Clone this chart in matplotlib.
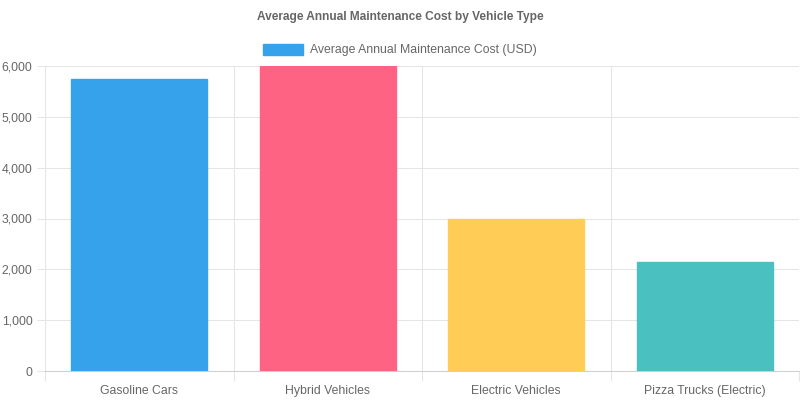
import matplotlib.pyplot as plt
from matplotlib.patches import Patch
from matplotlib.ticker import FuncFormatter, MultipleLocator

categories = ['Gasoline Cars', 'Hybrid Vehicles', 'Electric Vehicles', 'Pizza Trucks (Electric)']
costs = [5750, 6000, 3000, 2150]
bar_colors = ['#36A2EB', '#FF6384', '#FFCD56', '#4BC0C0']
series_label = 'Average Annual Maintenance Cost (USD)'
chart_title = 'Average Annual Maintenance Cost by Vehicle Type'

plt.rcParams['font.family'] = ['Liberation Sans', 'DejaVu Sans']
text_col = '#666666'
grid_col = '#e5e5e5'

fig = plt.figure(figsize=(8, 4), dpi=100)
ax = fig.add_axes([45 / 800, 29 / 400, 754 / 800, 305 / 400])

x = list(range(len(categories)))
ax.bar(x, costs, width=0.72, color=bar_colors, edgecolor=bar_colors,
       linewidth=1, zorder=3)

ax.set_xlim(-0.5, len(categories) - 0.5)
ax.set_ylim(0, 6000)
ax.yaxis.set_major_locator(MultipleLocator(1000))
ax.yaxis.set_major_formatter(FuncFormatter(lambda v, p: f'{int(v):,}'))

ax.set_xticks(x)
ax.set_xticklabels(categories)
# vertical grid lines sit at category borders
ax.set_xticks([i - 0.5 for i in range(len(categories) + 1)], minor=True)
ax.tick_params(axis='x', which='major', length=0, pad=10, labelsize=8.8, labelcolor=text_col)
ax.tick_params(axis='x', which='minor', length=7, color=grid_col, width=0.75)
ax.tick_params(axis='y', length=6, color=grid_col, width=0.75, pad=3, labelsize=8.8, labelcolor=text_col)

ax.grid(True, axis='y', color=grid_col, linewidth=0.75, zorder=0)
ax.grid(True, axis='x', which='minor', color=grid_col, linewidth=0.75, zorder=0)
for side in ['top', 'right']:
    ax.spines[side].set_visible(False)
ax.spines['left'].set_color(grid_col)
ax.spines['left'].set_linewidth(0.75)
ax.spines['bottom'].set_color('#cfcfcf')
ax.spines['bottom'].set_linewidth(0.75)

fig.text(0.5, 1 - 17 / 400, chart_title, ha='center', va='center',
         fontsize=8.6, fontweight='bold', color=text_col)

fig.legend(handles=[Patch(facecolor=bar_colors[0], edgecolor=bar_colors[0], label=series_label)],
           loc='center', bbox_to_anchor=(0.5, 1 - 50 / 400), frameon=False,
           fontsize=8.8, labelcolor=text_col, handlelength=3.2, handleheight=1.0,
           handletextpad=0.6)

fig.savefig('out.png', dpi=100)
